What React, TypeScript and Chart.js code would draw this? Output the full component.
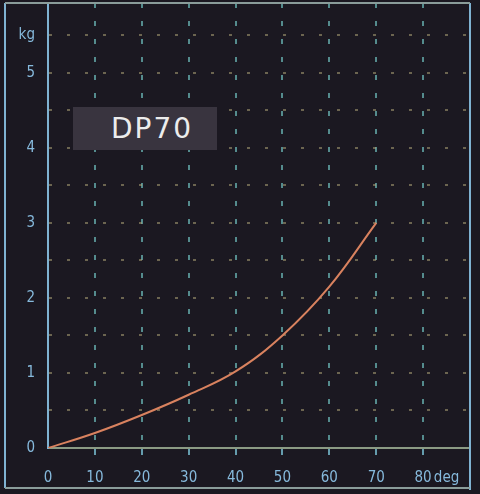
import React, { useEffect, useRef } from "react";
import { Chart, registerables } from "chart.js";

Chart.register(...registerables);

const angleDeg = [0, 10, 20, 30, 40, 50, 60, 70];
const forceKg = [0, 0.2, 0.44, 0.71, 1.02, 1.5, 2.15, 3.0];
const xTickLabels: Record<number, string> = { 0: "0", 10: "10", 20: "20", 30: "30", 40: "40", 50: "50", 60: "60", 70: "70", 80: "80", 85: "deg" };
const yTickLabels: Record<number, string> = { 0: "0", 1: "1", 2: "2", 3: "3", 4: "4", 5: "5", 5.5: "kg" };
const badgeText = "DP70";

const BG = "#1b1821";
const TICK_FONT = "'Liberation Sans Narrow', 'DejaVu Sans Condensed', 'DejaVu Sans', sans-serif";

const framePlugin = {
  id: "frame",
  beforeDraw(chart: any) {
    const ctx = chart.ctx;
    ctx.save();
    ctx.fillStyle = BG;
    ctx.fillRect(0, 0, chart.width, chart.height);
    ctx.restore();
  },
  afterDraw(chart: any) {
    const ctx = chart.ctx;
    const a = chart.chartArea;
    ctx.save();
    ctx.lineWidth = 2;
    ctx.strokeStyle = "#7fb2d2";
    ctx.beginPath();
    ctx.moveTo(5, a.top);
    ctx.lineTo(5, 488);
    ctx.moveTo(a.right, a.top);
    ctx.lineTo(a.right, 490);
    ctx.stroke();
    ctx.strokeStyle = "#8a9c9a";
    ctx.beginPath();
    ctx.moveTo(5, a.top);
    ctx.lineTo(a.right, a.top);
    ctx.moveTo(5, 488);
    ctx.lineTo(a.right, 488);
    ctx.stroke();
    ctx.restore();
  },
};

export default function App() {
  const ref = useRef<HTMLCanvasElement | null>(null);

  useEffect(() => {
    document.body.style.margin = "0";
    document.body.style.background = BG;
    const canvas = ref.current;
    if (!canvas) return;
    const chart = new Chart(canvas, {
      type: "line",
      data: {
        datasets: [
          {
            data: angleDeg.map((x, i) => ({ x, y: forceKg[i] })),
            borderColor: "#d9825f",
            borderWidth: 2,
            pointRadius: 0,
            tension: 0.4,
            fill: false,
          },
        ],
      },
      options: {
        animation: false,
        responsive: false,
        devicePixelRatio: 1,
        layout: { padding: { left: 5, top: 3, right: 10, bottom: 6 } },
        plugins: { legend: { display: false }, tooltip: { enabled: false } },
        scales: {
          x: {
            type: "linear",
            min: 0,
            max: 90,
            afterFit: (s: any) => {
              s.height = 40;
              s.paddingLeft = 0;
              s.paddingRight = 0;
            },
            ticks: {
              stepSize: 5,
              autoSkip: false,
              maxRotation: 0,
              padding: 14,
              color: "#86b9dc",
              font: { family: TICK_FONT, size: 15 },
              callback: (v: any) => xTickLabels[Number(v)] ?? "",
            },
            grid: {
              color: (c: any) => {
                const v = c.tick ? c.tick.value : -1;
                return v > 0 && v < 90 && v % 10 === 0 ? "rgba(110,190,190,0.7)" : "rgba(0,0,0,0)";
              },
              tickColor: (c: any) => {
                const v = c.tick ? c.tick.value : -1;
                return v > 0 && v < 90 && v % 10 === 0 ? "rgba(120,190,210,0.8)" : "rgba(0,0,0,0)";
              },
              lineWidth: 2,
              tickLength: 7,
              tickWidth: 2,
            },
            border: { display: true, color: "#8b9a84", width: 2, dash: [5, 13] },
          },
          y: {
            type: "linear",
            min: 0,
            max: 5.93,
            afterFit: (s: any) => {
              s.width = 43;
              s.paddingTop = 0;
              s.paddingBottom = 0;
            },
            ticks: {
              stepSize: 0.5,
              includeBounds: false,
              autoSkip: false,
              padding: 13,
              color: "#86b9dc",
              font: { family: TICK_FONT, size: 15 },
              callback: (v: any) => yTickLabels[Number(v)] ?? "",
            },
            grid: {
              color: (c: any) => {
                const v = c.tick ? c.tick.value : -1;
                return v > 0 ? "rgba(175,165,120,0.55)" : "rgba(0,0,0,0)";
              },
              lineWidth: 2,
              drawTicks: false,
            },
            border: { display: true, color: "#7fb2d2", width: 2, dash: [3, 15] },
          },
        },
      },
      plugins: [framePlugin],
    } as any);
    return () => chart.destroy();
  }, []);

  return (
    <div style={{ position: "relative", width: 480, height: 494, background: BG }}>
      <canvas ref={ref} width={480} height={494} style={{ display: "block" }} />
      <div
        style={{
          position: "absolute",
          left: 73,
          top: 107,
          width: 144,
          height: 43,
          background: "#39343f",
          color: "#ececec",
          fontFamily: "'DejaVu Sans', sans-serif",
          fontSize: 28,
          letterSpacing: 2,
          lineHeight: "43px",
          textAlign: "center",
          paddingLeft: 14,
          boxSizing: "border-box",
        }}
      >
        {badgeText}
      </div>
    </div>
  );
}
